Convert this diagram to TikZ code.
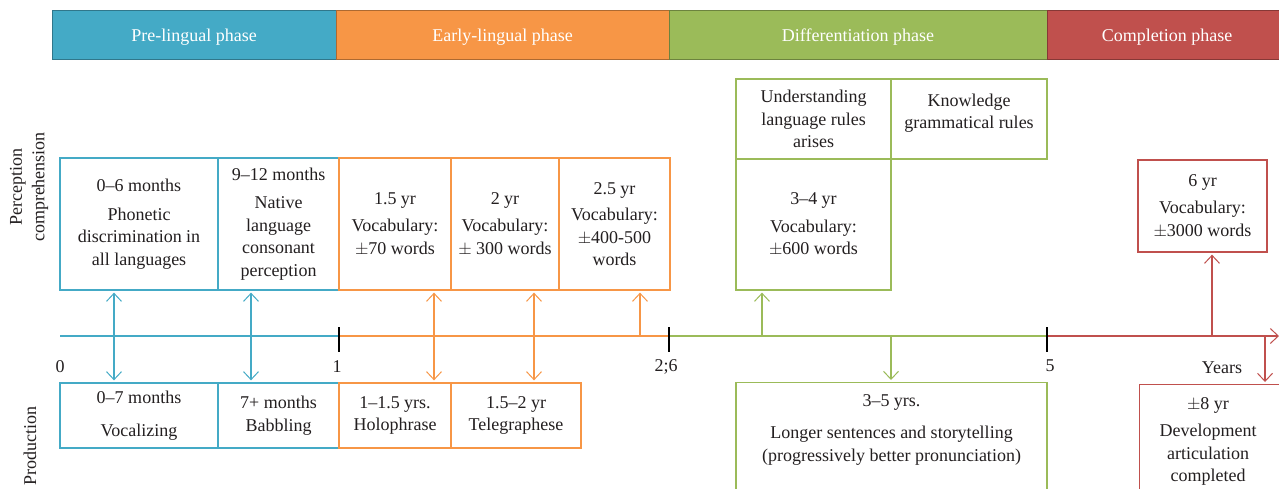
\documentclass[tikz,border=0pt]{standalone}
\usepackage{fontspec}
\setmainfont{Liberation Serif}
\usetikzlibrary{arrows.meta,calc}
\definecolor{cteal}{HTML}{44AAC6}
\definecolor{corange}{HTML}{F79646}
\definecolor{cgreen}{HTML}{9BBB59}
\definecolor{cred}{HTML}{C0504D}
\definecolor{ctext}{HTML}{231F20}
\begin{document}
\begin{tikzpicture}[x=1pt,y=-1pt,
  phase/.style={draw=#1!70!black, fill=#1, line width=1pt, text=white, font=\fontsize{18}{22}\selectfont, inner sep=0pt, minimum height=49pt, text height=16pt, text depth=3pt},
  box/.style={draw=#1, line width=1.3pt, text=ctext, align=center, font=\fontsize{18}{22.5}\selectfont, inner sep=0pt},
  lbl/.style={text=ctext, align=center, font=\fontsize{18}{22.5}\selectfont, inner sep=0pt},
  barb/.tip={Straight Barb[length=8pt,width=15pt,line width=1pt]},
  link/.style={draw=#1, line width=1.2pt},
  tick/.style={draw=black, line width=1.5pt},
]
\clip (0,0) rectangle (1279,489);
\fill[white] (0,0) rectangle (1279,489);

% phase bar
\node[phase=cteal, minimum width=284pt] (ph1) at (194,35.5) {Pre-lingual phase};
\node[phase=corange, minimum width=333pt] (ph2) at (502.5,35.5) {Early-lingual phase};
\node[phase=cgreen, minimum width=378pt] (ph3) at (858,35.5) {Differentiation phase};
\node[phase=cred, minimum width=240pt] (ph4) at (1167,35.5) {Completion phase};

% side labels
\node[lbl, rotate=90] (slp) at (29,187) {Perception\\comprehension};
\node[lbl, rotate=90] (slq) at (30,446) {Production};

% timeline
\coordinate (t0) at (60,336);
\coordinate (t1) at (339,336);
\coordinate (t2) at (669,336);
\coordinate (t5) at (1047,336);
\coordinate (tend) at (1279,336);
\draw[link=cteal] (t0) -- (t1);
\draw[link=corange] (t1) -- (t2);
\draw[link=cgreen] (t2) -- (t5);
\draw[link=cred, -barb] (t5) -- (tend);
\draw[tick] ($(t1)+(0,-9)$) -- ($(t1)+(0,16)$);
\draw[tick] ($(t2)+(0,-9)$) -- ($(t2)+(0,16)$);
\draw[tick] ($(t5)+(0,-9)$) -- ($(t5)+(0,16)$);
\node[lbl] (l0) at (60,367) {0};
\node[lbl] (l1) at (337,367) {1};
\node[lbl] (l2) at (666,367) {2;6};
\node[lbl] (l5) at (1050,366) {5};
\node[lbl] (lyr) at (1222,368) {Years};

% perception boxes
\node[box=cteal, minimum width=158pt, minimum height=132pt] (p1) at (139,224)
  {0--6 months\\[6pt]Phonetic\\discrimination in\\all languages};
\node[box=cteal, minimum width=121pt, minimum height=132pt] (p2) at (278.5,224)
  {9--12 months\\[6pt]Native\\language\\consonant\\perception};
\node[box=corange, minimum width=112pt, minimum height=132pt] (p3) at (395,224)
  {1.5 yr\\[5pt]Vocabulary:\\$\pm$70 words};
\node[box=corange, minimum width=108pt, minimum height=132pt] (p4) at (505,224)
  {2 yr\\[5pt]Vocabulary:\\$\pm$ 300 words};
\node[box=corange, minimum width=111pt, minimum height=132pt] (p5) at (614.5,224)
  {2.5 yr\\[4pt]Vocabulary:\\$\pm$400-500\\words};
\node[box=cgreen, minimum width=155pt, minimum height=80pt] (g1) at (813.5,119)
  {Understanding\\language rules\\arises};
\node[box=cgreen, minimum width=156pt, minimum height=80pt] (g2) at (969,119)
  {Knowledge\\grammatical rules\\[-7pt]\mbox{}};
\node[box=cgreen, minimum width=155pt, minimum height=131pt] (g3) at (813.5,224.5)
  {3--4 yr\\[5pt]Vocabulary:\\$\pm$600 words};
\node[box=cred, minimum width=129pt, minimum height=92pt] (r1) at (1202.5,206)
  {6 yr\\[5pt]Vocabulary:\\$\pm$3000 words};

% production boxes
\node[box=cteal, minimum width=158pt, minimum height=65pt] (q1) at (139,415.5)
  {0--7 months\\[10pt]Vocalizing};
\node[box=cteal, minimum width=121pt, minimum height=65pt] (q2) at (278.5,415.5)
  {7+ months\\Babbling};
\node[box=corange, minimum width=112pt, minimum height=65pt] (q3) at (395,415.5)
  {1--1.5 yrs.\\Holophrase};
\node[box=corange, minimum width=130pt, minimum height=65pt] (q4) at (516,415.5)
  {1.5--2 yr\\Telegraphese};
\node[box=cgreen, minimum width=311pt, minimum height=140pt, anchor=north] (g4) at (891.5,382) {};
\node[lbl, anchor=north] (g4t) at (891.5,394)
  {3--5 yrs.\\[10pt]Longer sentences and storytelling\\(progressively better pronunciation)};
\node[box=cred, minimum width=180pt, minimum height=140pt, anchor=north west] (r2) at (1139,384) {};
\node[lbl, anchor=north] (r2t) at (1208,397)
  {$\pm$8 yr\\[5pt]Development\\articulation\\completed};

% connectors
\coordinate (a1) at (114,336);
\coordinate (a2) at (251,336);
\coordinate (a3) at (434,336);
\coordinate (a4) at (534,336);
\coordinate (a5) at (640,336);
\coordinate (a6) at (762,336);
\coordinate (a7) at (891,336);
\coordinate (a8) at (1212,336);
\coordinate (a9) at (1265,336);
\draw[link=cteal, barb-barb, shorten <=2pt, shorten >=2pt] (p1.south -| a1) -- (q1.north -| a1);
\draw[link=cteal, barb-barb, shorten <=2pt, shorten >=2pt] (p2.south -| a2) -- (q2.north -| a2);
\draw[link=corange, barb-barb, shorten <=2pt, shorten >=2pt] (p3.south -| a3) -- (q3.north -| a3);
\draw[link=corange, barb-barb, shorten <=2pt, shorten >=2pt] (p4.south -| a4) -- (q4.north -| a4);
\draw[link=corange, -barb, shorten >=2pt] (a5) -- (p5.south -| a5);
\draw[link=cgreen, -barb, shorten >=2pt] (a6) -- (g3.south -| a6);
\draw[link=cgreen, -barb, shorten >=2pt] (a7) -- (g4.north -| a7);
\draw[link=cred, -barb, shorten >=2pt] (a8) -- (r1.south -| a8);
\draw[link=cred, -barb, shorten >=2pt] (a9) -- (r2.north -| a9);
\end{tikzpicture}
\end{document}
